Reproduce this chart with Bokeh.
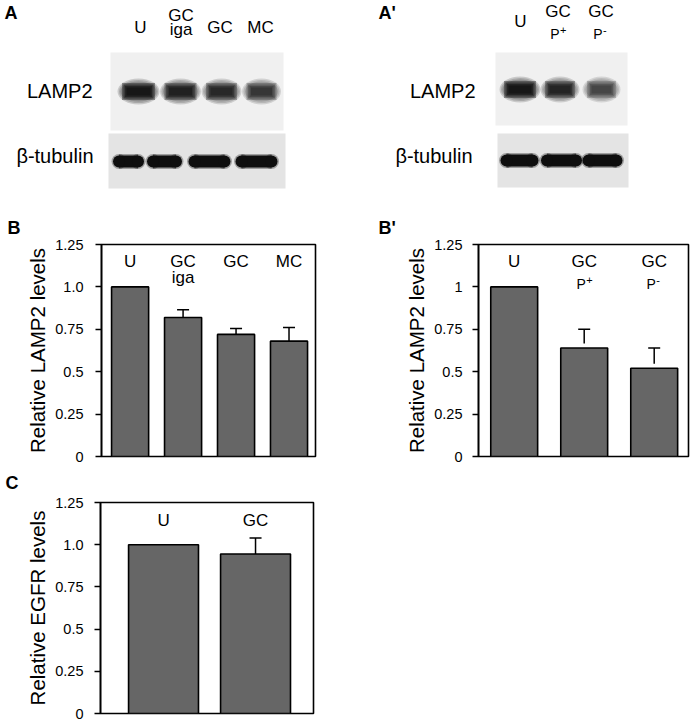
import numpy as np
from bokeh.plotting import figure
from bokeh.models import Range1d, FixedTicker, Whisker, TeeHead, ColumnDataSource
from bokeh.layouts import column, row
from bokeh.embed import file_html
from bokeh.resources import INLINE
from bokeh.core.properties import value

FONT = "Liberation Sans"

# ---------------- data ----------------
# Western blot panels (lane labels and relative band intensity)
blot_a_lane_top = ["U", "GC", "GC", "MC"]
blot_a_lane_bottom = ["", "iga", "", ""]
blot_a_lamp2 = [1.0, 0.92, 0.88, 0.8]
blot_a_tubulin = [1.0, 1.0, 1.0, 1.0]

blot_ap_lane_top = ["U", "GC", "GC"]
blot_ap_lane_bottom = ["", "P", "P"]
blot_ap_lane_sup = ["", "+", "-"]
blot_ap_lamp2 = [1.0, 0.9, 0.72]
blot_ap_tubulin = [1.0, 1.0, 1.0]

# B: relative LAMP2 levels
b_cat_top = ["U", "GC", "GC", "MC"]
b_cat_bottom = ["", "iga", "", ""]
b_values = [1.0, 0.82, 0.72, 0.68]
b_errors = [0.0, 0.045, 0.035, 0.08]

# B': relative LAMP2 levels
bp_cat_top = ["U", "GC", "GC"]
bp_cat_bottom = ["", "P", "P"]
bp_cat_sup = ["", "+", "-"]
bp_values = [1.0, 0.64, 0.52]
bp_errors = [0.0, 0.11, 0.12]

# C: relative EGFR levels
c_cats = ["U", "GC"]
c_values = [1.0, 0.945]
c_errors = [0.0, 0.095]

y_ticks = [0, 0.25, 0.5, 0.75, 1.0, 1.25]
b_tick_labels = ["0", "0.25", "0.5", "0.75", "1.0", "1.25"]
bp_tick_labels = ["0", "0.25", "0.5", "0.75", "1", "1.25"]
c_tick_labels = ["0", "0.25", "0.5", "0.75", "1.0", "1.25"]

# ---------------- layout ----------------
LEFT_W, RIGHT_W = 345, 345
ROW1_H = 236          # blots + letters B / B'
ROW2_H = 229          # bar charts B / B'
ROW3_LETTER_H = 29    # letter C
ROW3_H = 226          # bar chart C
BAR_FILL = "#666666"
LETTER_PX = 18


def canvas(w, h):
    p = figure(width=w, height=h, x_range=Range1d(0, w), y_range=Range1d(h, 0),
               x_axis_location=None, y_axis_location=None, min_border=0,
               output_backend="svg", toolbar_location=None)
    p.outline_line_color = None
    p.xgrid.visible = False
    p.ygrid.visible = False
    p.background_fill_color = "white"
    p.border_fill_color = "white"
    return p


def txt(p, xs, ys, texts, size_px, align="center", bold=False, x_off=0, y_off=0):
    # shift so that the given y is the alphabetic baseline on screen
    corr = -round(0.36 * size_px)
    p.text(x=xs, y=ys, text=texts, text_font=value(FONT), text_font_size=f"{size_px}px",
           text_align=align, text_baseline="alphabetic",
           text_font_style="bold" if bold else "normal", text_color="black",
           x_offset=x_off, y_offset=y_off + corr)


def lamp2_bands(p, xs, yc, ws, h, strengths):
    n = len(xs)
    ys = [yc] * n
    for k in range(7):
        grow = 9 - 3 * k
        if k < 3:
            p.ellipse(x=xs, y=ys, width=[w + grow for w in ws], height=h + grow,
                      fill_color="black", fill_alpha=[0.16 * s for s in strengths],
                      line_color=None)
        else:
            p.rect(x=xs, y=ys, width=[w + grow for w in ws], height=max(h + grow, 3),
                   fill_color="black", fill_alpha=[0.36 * s ** 2 for s in strengths],
                   line_color=None)


def capsule(p, xs, yc, ws, h, color, alphas):
    n = len(xs)
    ys = [yc] * n
    p.rect(x=xs, y=ys, width=[w - h for w in ws], height=h,
           fill_color=color, fill_alpha=alphas, line_color=None)
    p.ellipse(x=[x - (w - h) / 2 for x, w in zip(xs, ws)], y=ys, width=h, height=h,
              fill_color=color, fill_alpha=alphas, line_color=None)
    p.ellipse(x=[x + (w - h) / 2 for x, w in zip(xs, ws)], y=ys, width=h, height=h,
              fill_color=color, fill_alpha=alphas, line_color=None)


def tubulin_bands(p, xs, yc, ws, h, strengths):
    capsule(p, xs, yc, [w + 3 for w in ws], h + 3, "black", [0.3 * s for s in strengths])
    capsule(p, xs, yc, ws, h, "#0e0e0e", strengths)


# ---------- A ----------
pa = canvas(LEFT_W, ROW1_H)
A_lamp2_x = [138, 180, 221, 261]
A_lamp2_w = [33, 32, 31, 30]
A_tub_x = [128, 164, 209, 256]
A_tub_w = [31, 35, 42, 42]
A_label_x = [140, 180.5, 219.5, 260]

pa.quad(left=110, right=283, top=52, bottom=130, fill_color="#f0f0f0", line_color=None)
pa.quad(left=108, right=285, top=133, bottom=188, fill_color="#e4e4e4", line_color=None)
lamp2_bands(pa, A_lamp2_x, 91, A_lamp2_w, 17, blot_a_lamp2)
tubulin_bands(pa, A_tub_x, 161, A_tub_w, 12, blot_a_tubulin)

xs1, ys1, t1 = [], [], []
for x, top, bot in zip(A_label_x, blot_a_lane_top, blot_a_lane_bottom):
    if bot:
        xs1 += [x, x]
        ys1 += [21, 35]
        t1 += [top, bot]
    else:
        xs1.append(x)
        ys1.append(33)
        t1.append(top)
txt(pa, xs1, ys1, t1, 17)
txt(pa, [92], [97], ["LAMP2"], 20, align="right")
txt(pa, [93], [162], ["β-tubulin"], 20, align="right")
txt(pa, [4], [18], ["A"], LETTER_PX, align="left", bold=True)
txt(pa, [7], [233], ["B"], LETTER_PX, align="left", bold=True)

# ---------- A' ----------
pap = canvas(RIGHT_W, ROW1_H)
ox = 345
Ap_lamp2_x = [519.5, 559.5, 601]
Ap_lamp2_w = [32, 30, 29]
Ap_tub_x = [519, 561, 602]
Ap_tub_w = [38, 41, 40]
Ap_label_x = [520, 557.5, 600.5]

pap.quad(left=495 - ox, right=627 - ox, top=52, bottom=125, fill_color="#f0f0f0", line_color=None)
pap.quad(left=497 - ox, right=628 - ox, top=133, bottom=187, fill_color="#e4e4e4", line_color=None)
lamp2_bands(pap, [x - ox for x in Ap_lamp2_x], 89, Ap_lamp2_w, 17, blot_ap_lamp2)
tubulin_bands(pap, [x - ox for x in Ap_tub_x], 160, Ap_tub_w, 12, blot_ap_tubulin)

xs2, ys2, t2, xp, yp, tp, ts = [], [], [], [], [], [], []
for x, top, bot, sup in zip(Ap_label_x, blot_ap_lane_top, blot_ap_lane_bottom, blot_ap_lane_sup):
    if bot:
        xs2.append(x - ox); ys2.append(17); t2.append(top)
        xp.append(x - ox); yp.append(38); tp.append(bot); ts.append(sup)
    else:
        xs2.append(x - ox); ys2.append(27); t2.append(top)
txt(pap, xs2, ys2, t2, 17)
txt(pap, xp, yp, tp, 14, x_off=-3)
txt(pap, xp, yp, ts, 11, align="left", x_off=2, y_off=-5)
txt(pap, [475 - ox], [97], ["LAMP2"], 20, align="right")
txt(pap, [472 - ox], [162], ["β-tubulin"], 20, align="right")
txt(pap, [378 - ox], [18], ["A'"], LETTER_PX, align="left", bold=True)
txt(pap, [378 - ox], [233], ["B'"], LETTER_PX, align="left", bold=True)


# ---------- bar panels ----------
def bar_panel(w, h, fl, fr, ft, fb, xr, ylabel, tick_labels, label_standoff):
    p = figure(width=w, height=h, x_range=Range1d(*xr), y_range=Range1d(0, 1.25),
               x_axis_location=None, y_axis_location="left",
               min_border_left=fl, min_border_right=w - fr,
               min_border_top=ft, min_border_bottom=h - fb,
               output_backend="svg", toolbar_location=None)
    p.xgrid.visible = False
    p.ygrid.visible = False
    p.background_fill_color = "white"
    p.border_fill_color = "white"
    p.outline_line_color = "black"
    p.outline_line_width = 1.6
    p.outline_line_alpha = 1.0
    ax = p.yaxis[0]
    ax.ticker = FixedTicker(ticks=y_ticks)
    ax.major_label_overrides = {t: s for t, s in zip(y_ticks, tick_labels)}
    ax.axis_label = ylabel
    ax.axis_label_text_font = FONT
    ax.axis_label_text_font_size = "20.5px"
    ax.axis_label_text_font_style = "normal"
    ax.axis_label_text_color = "black"
    ax.axis_label_standoff = 3
    ax.major_label_text_font = FONT
    ax.major_label_text_font_size = "14.5px"
    ax.major_label_text_color = "black"
    ax.major_label_standoff = label_standoff
    ax.axis_line_color = "black"
    ax.axis_line_width = 1.6
    ax.major_tick_line_color = "black"
    ax.major_tick_line_width = 1.3
    ax.major_tick_out = 6
    ax.major_tick_in = 0
    ax.minor_tick_line_color = None
    return p


def add_bars(p, vals, errs, width, gap=0.0):
    xs = list(range(len(vals)))
    p.vbar(x=xs, top=vals, bottom=0, width=width, fill_color=BAR_FILL,
           line_color="black", line_width=1.6)
    eb = [i for i, e in enumerate(errs) if e > 0]
    src = ColumnDataSource(dict(base=[xs[i] for i in eb],
                                lower=[vals[i] + gap for i in eb],
                                upper=[vals[i] + errs[i] for i in eb]))
    p.add_layout(Whisker(source=src, base="base", lower="lower", upper="upper",
                         dimension="height", line_color="black", line_width=1.5,
                         lower_head=None,
                         upper_head=TeeHead(size=12, line_color="black", line_width=1.5),
                         level="overlay"))
    return xs


# B  (frame: x 101..315, y 244..456; figure starts at y 236)
pb = bar_panel(LEFT_W, ROW2_H, 101, 315, 8, 220, (-0.54, 3.5),
               "Relative LAMP2 levels", b_tick_labels, 12)
xb = add_bars(pb, b_values, b_errors, 0.7)
xt, yt, tt = [], [], []
for x, top, bot in zip(xb, b_cat_top, b_cat_bottom):
    xt.append(x); yt.append(1.114); tt.append(top)
    if bot:
        xt.append(x); yt.append(1.022); tt.append(bot)
txt(pb, xt, yt, tt, 17)

# B'  (frame: x 478..688, y 244..456)
pbp = bar_panel(RIGHT_W, ROW2_H, 478 - 345, 688 - 345, 8, 220, (-0.51, 2.49),
                "Relative LAMP2 levels", bp_tick_labels, 10)
xbp = add_bars(pbp, bp_values, bp_errors, 0.67, gap=0.027)
txt(pbp, xbp, [1.116] * len(xbp), bp_cat_top, 17)
xq = [x for x, b in zip(xbp, bp_cat_bottom) if b]
txt(pbp, xq, [0.988] * len(xq), [b for b in bp_cat_bottom if b], 14, x_off=-3)
txt(pbp, xq, [0.988] * len(xq), [s for s, b in zip(bp_cat_sup, bp_cat_bottom) if b],
    11, align="left", x_off=2, y_off=-5)

# C letter (own canvas, y 465..494) and C chart (frame: x 100..313, y 502..713)
lc = canvas(LEFT_W, ROW3_LETTER_H)
txt(lc, [5], [488 - 465], ["C"], LETTER_PX, align="left", bold=True)
pc = bar_panel(LEFT_W, ROW3_H, 100, 313, 8, 219, (-0.685, 1.63),
               "Relative EGFR levels", c_tick_labels, 11)
xc = add_bars(pc, c_values, c_errors, 0.76)
txt(pc, xc, [1.11] * len(xc), c_cats, 17)

layout = column(
    row(pa, pap),
    row(pb, pbp),
    row(lc),
    row(pc),
)
open("out.html", "w").write(file_html(layout, INLINE, "Figure"))
